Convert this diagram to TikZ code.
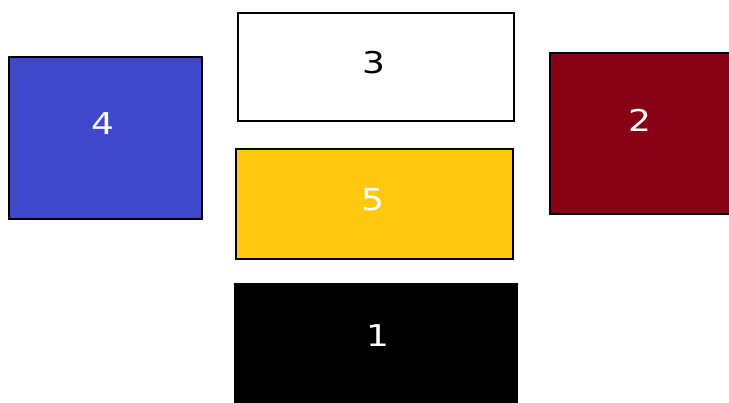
\documentclass[tikz,border=0pt]{standalone}
\usepackage{fontspec}
\usepackage{xcolor}
\usepackage{tikz}
\usetikzlibrary{positioning}

\newfontfamily\digitfont[FakeStretch=1.2]{DejaVu Sans}

\definecolor{tileblue}{HTML}{3F48CC}
\definecolor{tilered}{HTML}{880015}
\definecolor{tileyellow}{HTML}{FFC90E}

\begin{document}
\begin{tikzpicture}[
    x=1pt, y=-1pt,
    tile/.style={draw=black, line width=1.2pt, rectangle, inner sep=0pt},
    tilenum/.style={font=\digitfont\fontsize{30}{30}\selectfont, inner sep=0pt}
]
\clip (0,0) rectangle (729,403);
\useasboundingbox (0,0) rectangle (729,403);

% ==================== TILES ====================
\node[tile, fill=tileblue, minimum width=193pt, minimum height=162pt] (tile4) at (105.5,138) {};
\node[tile, fill=white, minimum width=276pt, minimum height=108pt] (tile3) at (376,67) {};
\node[tile, fill=tilered, minimum width=185pt, minimum height=161pt] (tile2) at (642.5,133.5) {};
\node[tile, fill=tileyellow, minimum width=277pt, minimum height=110pt] (tile5) at (374.5,204) {};
\node[tile, fill=black, minimum width=282pt, minimum height=130pt] (tile1) at (376,349) {};

% Numbers
\node[tilenum, white] (num4) at (103,123.5) {4};
\node[tilenum, black] (num3) at (374,63) {3};
\node[tilenum, white] (num2) at (639.5,120.5) {2};
\node[tilenum, white] (num5) at (373,200) {5};
\node[tilenum, white] (num1) at (377.5,336) {1};

\end{tikzpicture}
\end{document}
